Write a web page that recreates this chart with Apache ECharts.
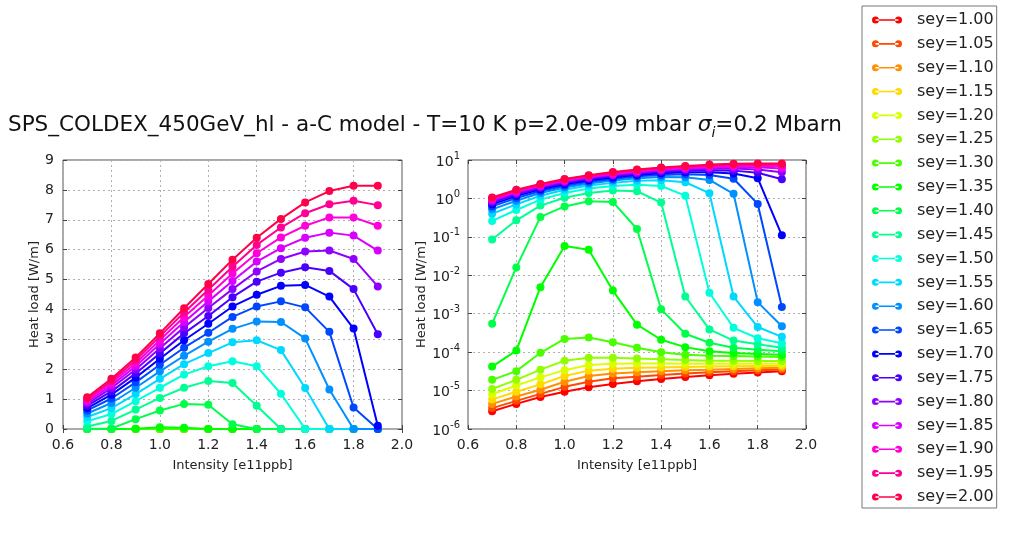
<!DOCTYPE html>
<html><head><meta charset="utf-8">
<script src="https://cdn.jsdelivr.net/npm/echarts@6/dist/echarts.min.js"></script>
<style>html,body{margin:0;padding:0;background:#fff}#c{width:1009px;height:547px}</style>
</head><body><div id="c"></div>
<script>
// ---------- data ----------
const intensity = [0.7, 0.8, 0.9, 1.0, 1.1, 1.2, 1.3, 1.4, 1.5, 1.6, 1.7, 1.8, 1.9];
const seyLabels = ['sey=1.00','sey=1.05','sey=1.10','sey=1.15','sey=1.20','sey=1.25','sey=1.30',
  'sey=1.35','sey=1.40','sey=1.45','sey=1.50','sey=1.55','sey=1.60','sey=1.65','sey=1.70',
  'sey=1.75','sey=1.80','sey=1.85','sey=1.90','sey=1.95','sey=2.00'];
const xTickLabels = ['0.6','0.8','1.0','1.2','1.4','1.6','1.8','2.0'];
const yLinTicks = [0,1,2,3,4,5,6,7,8,9];
const yLogExponents = [-6,-5,-4,-3,-2,-1,0,1];

const sey100 = [2.9e-6, 4.5e-6, 6.8e-6, 9.3e-6, 1.22e-5, 1.48e-5, 1.75e-5, 2.0e-5, 2.25e-5, 2.5e-5, 2.75e-5, 2.95e-5, 3.2e-5];
const sey105 = [3.5e-6, 5.4e-6, 8.2e-6, 1.25e-5, 1.7e-5, 2.1e-5, 2.3e-5, 2.55e-5, 2.8e-5, 3.0e-5, 3.2e-5, 3.4e-5, 3.55e-5];
const sey110 = [4.5e-6, 7.0e-6, 1.05e-5, 1.7e-5, 2.4e-5, 2.8e-5, 3.0e-5, 3.2e-5, 3.4e-5, 3.5e-5, 3.65e-5, 3.8e-5, 3.9e-5];
const sey115 = [5.9e-6, 9.3e-6, 1.45e-5, 2.4e-5, 3.3e-5, 3.7e-5, 3.9e-5, 4.0e-5, 4.1e-5, 4.2e-5, 4.3e-5, 4.35e-5, 4.4e-5];
const sey120 = [8.0e-6, 1.35e-5, 2.2e-5, 3.4e-5, 4.6e-5, 5.0e-5, 5.1e-5, 5.1e-5, 5.0e-5, 5.0e-5, 5.0e-5, 5.0e-5, 5.0e-5];
const sey125 = [1.1e-5, 1.9e-5, 3.5e-5, 6.0e-5, 7.1e-5, 7.1e-5, 6.8e-5, 6.5e-5, 6.2e-5, 6.0e-5, 6.0e-5, 5.9e-5, 5.9e-5];
const sey130 = [1.9e-5, 3.2e-5, 9.6e-5, 2.2e-4, 2.4e-4, 1.8e-4, 1.3e-4, 1.0e-4, 8.5e-5, 8.1e-5, 7.9e-5, 7.7e-5, 7.5e-5];
const sey135 = [4.2e-5, 1.1e-4, 4.9e-3, 0.058, 0.046, 4.0e-3, 5.2e-4, 2.1e-4, 1.35e-4, 1.05e-4, 9.5e-5, 9.0e-5, 8.5e-5];
const sey140 = [5.5e-4, 0.016, 0.33, 0.62, 0.84, 0.81, 0.16, 1.3e-3, 3.0e-4, 1.75e-4, 1.3e-4, 1.15e-4, 1.05e-4];
const sey145 = [0.085, 0.27, 0.65, 1.04, 1.38, 1.61, 1.54, 0.78, 2.8e-3, 3.9e-4, 2.0e-4, 1.6e-4, 1.3e-4];
const sey150 = [0.26, 0.5, 0.93, 1.38, 1.82, 2.1, 2.27, 2.1, 1.18, 3.5e-3, 4.3e-4, 2.3e-4, 1.7e-4];
const sey155 = [0.4, 0.7, 1.17, 1.68, 2.17, 2.54, 2.9, 2.97, 2.64, 1.37, 2.8e-3, 4.5e-4, 2.5e-4];
const sey160 = [0.52, 0.87, 1.38, 1.93, 2.45, 2.92, 3.35, 3.6, 3.58, 3.03, 1.32, 2.0e-3, 4.7e-4];
const sey165 = [0.62, 1.02, 1.56, 2.15, 2.72, 3.22, 3.75, 4.1, 4.27, 4.07, 3.25, 0.72, 1.5e-3];
const sey170 = [0.7, 1.15, 1.72, 2.35, 2.97, 3.52, 4.1, 4.49, 4.79, 4.82, 4.43, 3.36, 0.11];
const sey175 = [0.78, 1.26, 1.86, 2.53, 3.2, 3.78, 4.41, 4.93, 5.23, 5.41, 5.29, 4.68, 3.17];
const sey180 = [0.85, 1.37, 1.99, 2.7, 3.4, 4.05, 4.68, 5.27, 5.69, 5.94, 5.97, 5.69, 4.77];
const sey185 = [0.91, 1.46, 2.1, 2.85, 3.58, 4.27, 4.95, 5.6, 6.05, 6.4, 6.57, 6.47, 5.97];
const sey190 = [0.96, 1.54, 2.2, 2.98, 3.75, 4.47, 5.2, 5.88, 6.41, 6.8, 7.08, 7.08, 6.8];
const sey195 = [1.01, 1.61, 2.3, 3.1, 3.9, 4.66, 5.43, 6.16, 6.74, 7.22, 7.52, 7.64, 7.49];
const sey200 = [1.06, 1.68, 2.39, 3.2, 4.04, 4.85, 5.66, 6.4, 7.03, 7.58, 7.96, 8.14, 8.14];

const seyValues = [sey100, sey105, sey110, sey115, sey120, sey125, sey130, sey135, sey140, sey145,
  sey150, sey155, sey160, sey165, sey170, sey175, sey180, sey185, sey190, sey195, sey200];

// ---------- style ----------
const colors = ['#ff0000','#ff4800','#ff9000','#ffd900','#dbff00','#92ff00','#49ff00','#00ff00',
  '#00ff49','#00ff92','#00ffdb','#00d9ff','#0090ff','#0048ff','#0000ff','#4800ff','#9000ff',
  '#d900ff','#ff00db','#ff0092','#ff0049'];
const FONT = 'DejaVu Sans';
const textCol = '#222';

const chart = echarts.init(document.getElementById('c'), null, {renderer: 'canvas'});

const gridL = {left: 63, top: 160, width: 339, height: 269};
const gridR = {left: 468, top: 160, width: 338, height: 269};

const splitLine = {show: true, lineStyle: {color: '#b0b0b0', type: [2, 3], width: 1}};

function xMain(gi) {
  return {
    type: 'value', gridIndex: gi, min: 0.6, max: 2.0, interval: 0.2, position: 'bottom',
    axisLine: {show: false},
    axisTick: {show: true, inside: true, length: 4, lineStyle: {color: '#444'}},
    axisLabel: {color: textCol, fontFamily: FONT, fontSize: 14, margin: 9,
      formatter: v => xTickLabels[Math.round((v - 0.6) / 0.2)]},
    splitLine: splitLine,
    name: 'Intensity [e11ppb]', nameLocation: 'middle', nameGap: 30,
    nameTextStyle: {color: textCol, fontFamily: FONT, fontSize: 13}
  };
}
function xTop(gi) {
  return {
    type: 'value', gridIndex: gi, min: 0.6, max: 2.0, interval: 0.2, position: 'top',
    axisLine: {show: false},
    axisTick: {show: true, inside: true, length: 4, lineStyle: {color: '#444'}},
    axisLabel: {show: false}, splitLine: {show: false}
  };
}

const yLinMain = {
  type: 'value', gridIndex: 0, min: yLinTicks[0], max: yLinTicks[yLinTicks.length - 1], interval: 1,
  position: 'left', axisLine: {show: false},
  axisTick: {show: true, inside: true, length: 4, lineStyle: {color: '#444'}},
  axisLabel: {color: textCol, fontFamily: FONT, fontSize: 14, margin: 9},
  splitLine: splitLine,
  name: 'Heat load [W/m]', nameLocation: 'middle', nameGap: 21, nameRotate: 90,
  nameTextStyle: {color: textCol, fontFamily: FONT, fontSize: 13}
};
const yLinRight = {
  type: 'value', gridIndex: 0, min: 0, max: 9, interval: 1, position: 'right',
  axisLine: {show: false},
  axisTick: {show: true, inside: true, length: 4, lineStyle: {color: '#444'}},
  axisLabel: {show: false}, splitLine: {show: false}
};
const yLogMain = {
  type: 'log', logBase: 10, gridIndex: 1, min: Math.pow(10, yLogExponents[0]),
  max: Math.pow(10, yLogExponents[yLogExponents.length - 1]), interval: 1,
  position: 'left', axisLine: {show: false},
  axisTick: {show: true, inside: true, length: 4, lineStyle: {color: '#444'}},
  axisLabel: {
    color: textCol, fontFamily: FONT, fontSize: 14, margin: 8,
    formatter: v => '{b|10}{s|' + Math.round(Math.log10(v)) + '}',
    rich: {
      b: {fontFamily: FONT, fontSize: 14, color: textCol, lineHeight: 18, verticalAlign: 'bottom'},
      s: {fontFamily: FONT, fontSize: 10, color: textCol, lineHeight: 18, verticalAlign: 'top', padding: [0, 0, 6, 0]}
    }
  },
  splitLine: splitLine,
  name: 'Heat load [W/m]', nameLocation: 'middle', nameGap: 40, nameRotate: 90,
  nameTextStyle: {color: textCol, fontFamily: FONT, fontSize: 13}
};
const yLogRight = {
  type: 'log', logBase: 10, gridIndex: 1, min: 1e-6, max: 10, interval: 1, position: 'right',
  axisLine: {show: false},
  axisTick: {show: true, inside: true, length: 4, lineStyle: {color: '#444'}},
  axisLabel: {show: false}, splitLine: {show: false}
};

const series = [];
seyValues.forEach((vals, i) => {
  const pts = intensity.map((x, j) => [x, vals[j]]);
  [0, 1].forEach(g => {
    series.push({
      type: 'line', name: seyLabels[i], xAxisIndex: g, yAxisIndex: g,
      data: pts, symbol: 'circle', symbolSize: 8, showSymbol: true,
      lineStyle: {width: 2, color: colors[i]},
      itemStyle: {color: colors[i], borderWidth: 0},
      emphasis: {disabled: true}, z: 2 + i * 0.01, animation: false
    });
  });
});

const legendIcon = 'path://M0,3.5 A3.5,3.5 0 1,0 7,3.5 A3.5,3.5 0 1,0 0,3.5 Z M3.5,2.7 L26.5,2.7 L26.5,4.3 L3.5,4.3 Z M23,3.5 A3.5,3.5 0 1,0 30,3.5 A3.5,3.5 0 1,0 23,3.5 Z';

chart.setOption({
  backgroundColor: '#ffffff',
  animation: false,
  title: {
    text: '{n|SPS_COLDEX_450GeV_hl - a-C model - T=10 K p=2.0e-09 mbar }{s|σ}{i|i}{n|=0.2 Mbarn}',
    left: 8, top: 110, padding: 0,
    textStyle: {
      fontWeight: 'normal',
      rich: {
        n: {fontFamily: FONT, fontSize: 21.5, fontWeight: 'normal', color: '#111', lineHeight: 26, verticalAlign: 'bottom'},
        s: {fontFamily: FONT, fontSize: 21.5, fontWeight: 'normal', fontStyle: 'italic', color: '#111', lineHeight: 26, verticalAlign: 'bottom'},
        i: {fontFamily: FONT, fontSize: 14, fontWeight: 'normal', fontStyle: 'italic', color: '#111', lineHeight: 26, verticalAlign: 'bottom', padding: [0, 0, -4, 0]}
      }
    }
  },
  legend: {
    data: seyLabels, orient: 'vertical', left: 862, top: 6,
    padding: [6, 3, 3, 10], itemGap: 7.85, itemWidth: 30, itemHeight: 7,
    icon: legendIcon, selectedMode: false,
    borderColor: '#777', borderWidth: 1, borderRadius: 0, backgroundColor: '#fff',
    textStyle: {fontFamily: FONT, fontSize: 16, color: textCol, lineHeight: 16, padding: [0, 0, 0, 10]}
  },
  grid: [
    Object.assign({show: true, borderColor: '#555', borderWidth: 1, backgroundColor: 'transparent', containLabel: false}, gridL),
    Object.assign({show: true, borderColor: '#555', borderWidth: 1, backgroundColor: 'transparent', containLabel: false}, gridR)
  ],
  xAxis: [xMain(0), xMain(1), xTop(0), xTop(1)],
  yAxis: [yLinMain, yLogMain, yLinRight, yLogRight],
  series: series
});
</script>
</body></html>
